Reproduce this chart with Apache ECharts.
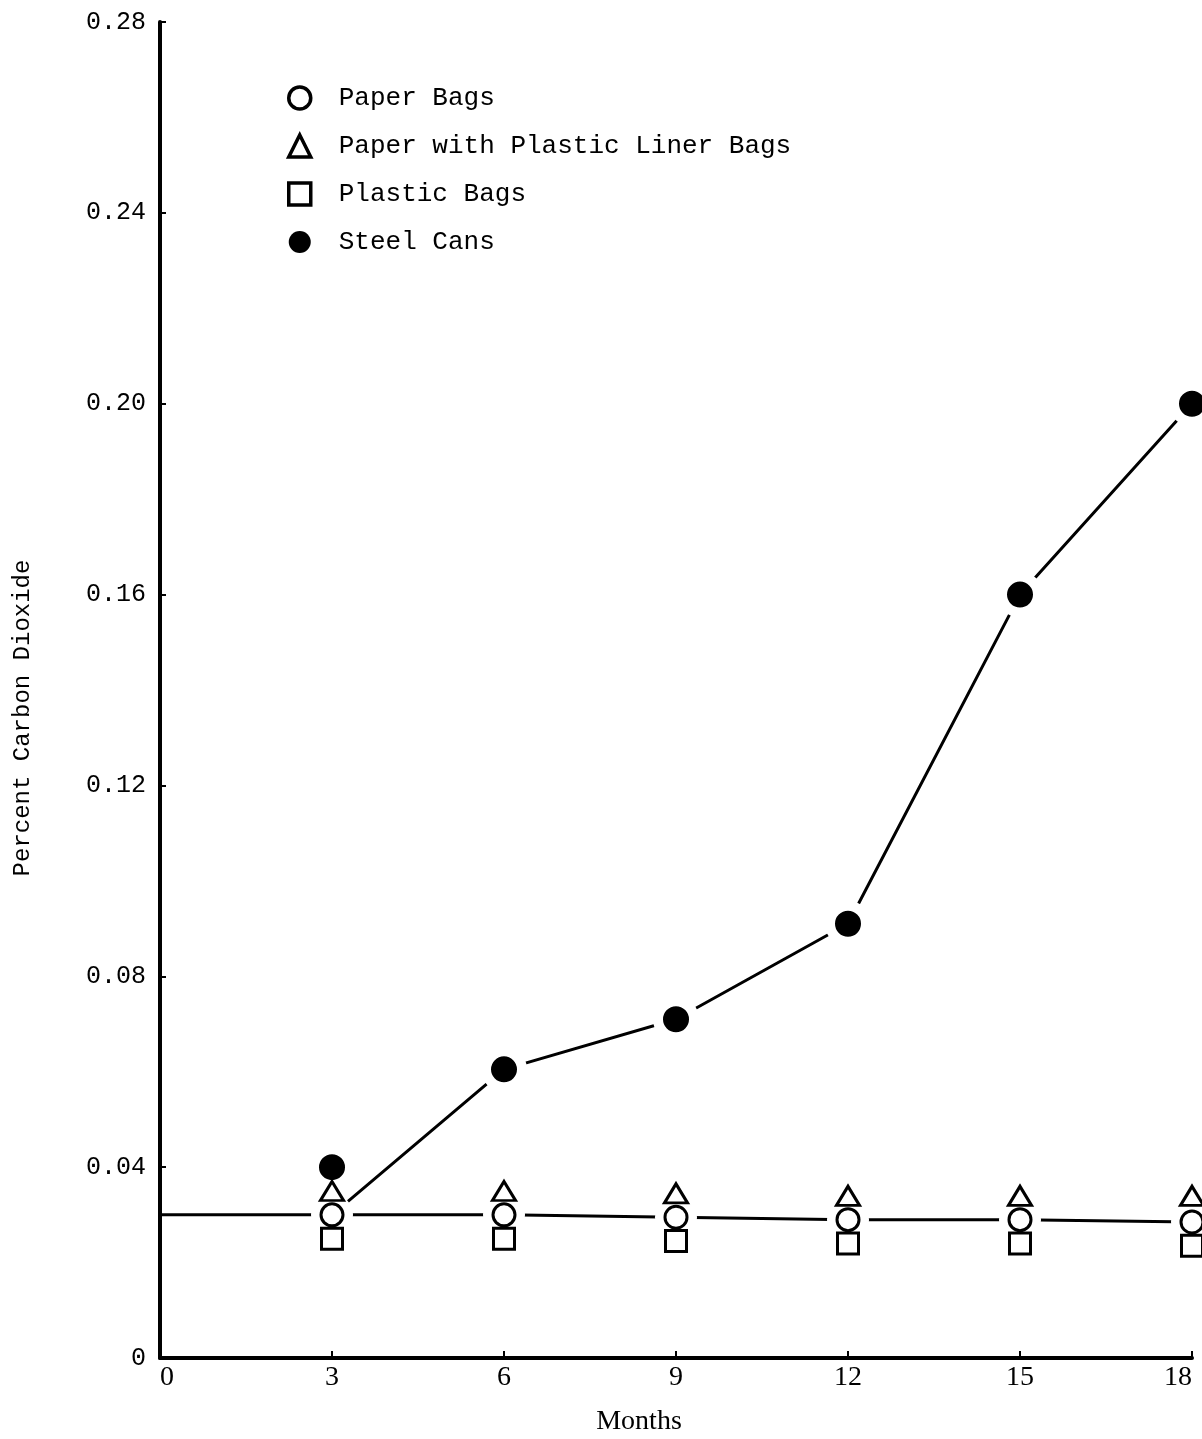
<!DOCTYPE html>
<html>
<head>
<meta charset="utf-8">
<script src="https://cdn.jsdelivr.net/npm/echarts@6/dist/echarts.min.js"></script>
<style>
  html, body { margin: 0; padding: 0; background: #fff; }
  #chart { width: 1202px; height: 1439px; }
</style>
</head>
<body>
<div id="chart"></div>
<script>
// months along the x axis
const months = [3, 6, 9, 12, 15, 18]

// percent CO2
const paperBags = [0.030, 0.030, 0.0295, 0.029, 0.029, 0.0285]
const linerBags = [0.035, 0.035, 0.0345, 0.034, 0.034, 0.034]
const plasticBags = [0.025, 0.025, 0.0245, 0.024, 0.024, 0.0235]
const steelCans = [0.040, 0.0605, 0.071, 0.091, 0.160, 0.200]

// trend lines as drawn: paper bags from month 0, steel cans starting at the paper-bag point
const paperLineMonths = [0, 3, 6, 9, 12, 15, 18]
const paperLineValues = [0.030, 0.030, 0.030, 0.0295, 0.029, 0.029, 0.0285]
const steelLineMonths = [3, 6, 9, 12, 15, 18]
const steelLineValues = [0.030, 0.0605, 0.071, 0.091, 0.160, 0.200]

const pairs = (xs, ys) => xs.map((x, i) => [x, ys[i]])

const mono = 'Liberation Mono'
const narrow = 'Liberation Sans Narrow, Liberation Serif'

const chart = echarts.init(document.getElementById('chart'))

const markerStyle = {
  color: '#fff',
  borderColor: '#000',
  borderWidth: 3,
  opacity: 1
}
const legendOpen = { color: '#fff', borderColor: '#000', borderWidth: 3.5 }

chart.setOption({
  animation: false,
  backgroundColor: '#fff',
  grid: { left: 160, right: 10, top: 22, bottom: 81, outerBoundsMode: 'none' },
  legend: {
    orient: 'vertical',
    left: 282,
    top: 80,
    itemWidth: 22,
    itemHeight: 22,
    itemGap: 22,
    textStyle: { fontFamily: mono, fontSize: 26, color: '#000', padding: [0, 0, 0, 23] },
    data: [
      { name: 'Paper Bags', itemStyle: legendOpen },
      { name: 'Paper with Plastic Liner Bags', itemStyle: legendOpen },
      { name: 'Plastic Bags', itemStyle: legendOpen },
      { name: 'Steel Cans', itemStyle: { color: '#000', borderWidth: 0 } }
    ]
  },
  xAxis: {
    type: 'value',
    min: 0,
    max: 18,
    interval: 3,
    name: 'Months',
    nameLocation: 'middle',
    nameGap: 50,
    nameTextStyle: { fontFamily: narrow, fontSize: 28, color: '#000', padding: [0, 74, 0, 0] },
    axisLine: { lineStyle: { color: '#000', width: 4 } },
    axisTick: { inside: true, length: 7, lineStyle: { color: '#000', width: 2 } },
    axisLabel: {
      fontFamily: narrow,
      fontSize: 28,
      color: '#000',
      margin: 6,
      alignMinLabel: 'left',
      alignMaxLabel: 'right'
    },
    splitLine: { show: false }
  },
  yAxis: {
    type: 'value',
    min: 0,
    max: 0.28,
    interval: 0.04,
    name: 'Percent Carbon Dioxide',
    nameLocation: 'middle',
    nameGap: 125,
    nameTextStyle: { fontFamily: mono, fontSize: 24, color: '#000', padding: [0, 56, 0, 0] },
    axisLine: { show: true, lineStyle: { color: '#000', width: 4 } },
    axisTick: { show: true, inside: true, length: 6, lineStyle: { color: '#000', width: 2 } },
    axisLabel: {
      fontFamily: mono,
      fontSize: 25,
      color: '#000',
      margin: 14,
      formatter: v => (v === 0 ? '0' : v.toFixed(2))
    },
    splitLine: { show: false }
  },
  series: [
    {
      name: 'paperLine',
      type: 'line',
      z: 2,
      symbol: 'none',
      lineStyle: { color: '#000', width: 3 },
      data: pairs(paperLineMonths, paperLineValues)
    },
    {
      name: 'steelLine',
      type: 'line',
      z: 2,
      symbol: 'none',
      lineStyle: { color: '#000', width: 3 },
      data: pairs(steelLineMonths, steelLineValues)
    },
    {
      // white halo that opens a gap in the line round each open circle
      name: 'halo',
      type: 'scatter',
      z: 3,
      symbol: 'circle',
      symbolSize: 42,
      itemStyle: { color: '#fff', opacity: 1 },
      silent: true,
      data: pairs(months, paperBags)
    },
    {
      name: 'Steel Cans',
      type: 'scatter',
      z: 4,
      symbol: 'circle',
      symbolSize: 36,
      itemStyle: { color: '#000', borderColor: '#fff', borderWidth: 10, opacity: 1 },
      data: pairs(months, steelCans)
    },
    {
      name: 'Paper Bags',
      type: 'scatter',
      z: 5,
      symbol: 'circle',
      symbolSize: 22,
      itemStyle: markerStyle,
      data: pairs(months, paperBags)
    },
    {
      name: 'Paper with Plastic Liner Bags',
      type: 'scatter',
      z: 5,
      symbol: 'triangle',
      symbolSize: [23, 19],
      itemStyle: markerStyle,
      data: pairs(months, linerBags)
    },
    {
      name: 'Plastic Bags',
      type: 'scatter',
      z: 5,
      symbol: 'rect',
      symbolSize: 21,
      itemStyle: markerStyle,
      data: pairs(months, plasticBags)
    }
  ]
})
</script>
</body>
</html>
